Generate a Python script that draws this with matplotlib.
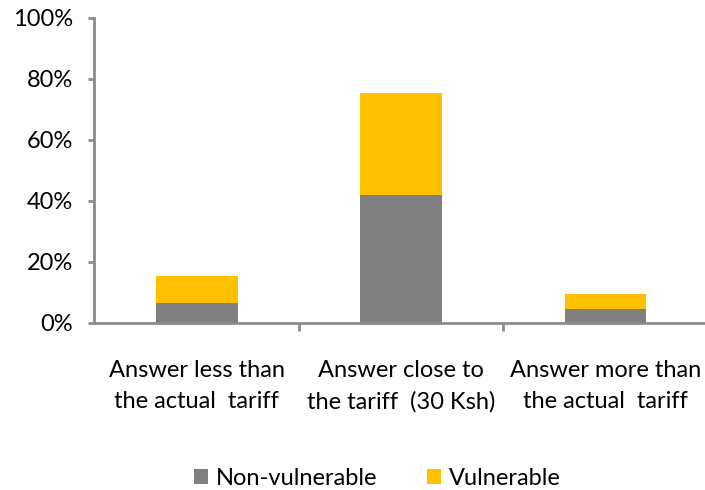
import numpy as np
import matplotlib.pyplot as plt
from matplotlib.ticker import PercentFormatter

plt.rcParams['font.family'] = ['Lato', 'DejaVu Sans']

categories = ["Answer less than\nthe actual  tariff",
              "Answer close to\nthe tariff  (30 Ksh)",
              "Answer more than\nthe actual  tariff"]
non_vulnerable = [6.6, 41.9, 4.6]
vulnerable = [8.6, 33.4, 4.7]
y_ticks = [0, 20, 40, 60, 80, 100]

fig = plt.figure(figsize=(7.05, 4.9), dpi=100)
ax = fig.add_axes([0.134, 0.3414, 0.87, 0.6225])

x = np.arange(len(categories))
ax.bar(x, non_vulnerable, width=0.4, color="#808080", label="Non-vulnerable")
ax.bar(x, vulnerable, width=0.4, bottom=non_vulnerable, color="#FFC000", label="Vulnerable")

ax.set_xlim(-0.5, 2.5)
ax.set_ylim(0, 100)
ax.set_yticks(y_ticks)
ax.yaxis.set_major_formatter(PercentFormatter(decimals=0))

# category ticks sit between groups
ax.set_xticks([0.5, 1.5, 2.5])
ax.set_xticklabels([])
ax.set_xticks(x, minor=True)
ax.set_xticklabels(categories, minor=True, fontsize=17, linespacing=1.55)
ax.tick_params(axis="x", which="minor", length=0, pad=27)
ax.tick_params(axis="x", which="major", length=6, width=2, color="#8c8c8c")
ax.tick_params(axis="y", length=4.5, width=2, color="#8c8c8c", labelsize=17, pad=11)

for side in ["top", "right"]:
    ax.spines[side].set_visible(False)
for side in ["left", "bottom"]:
    ax.spines[side].set_color("#8c8c8c")
    ax.spines[side].set_linewidth(2)
    ax.spines[side].set_clip_on(False)

fig.legend(loc="lower center", bbox_to_anchor=(0.5355, -0.022), ncol=2, frameon=False,
           fontsize=17, handlelength=0.6, handleheight=0.6, handletextpad=0.34,
           columnspacing=2.1, borderpad=0)

fig.savefig("out.png", dpi=100)
